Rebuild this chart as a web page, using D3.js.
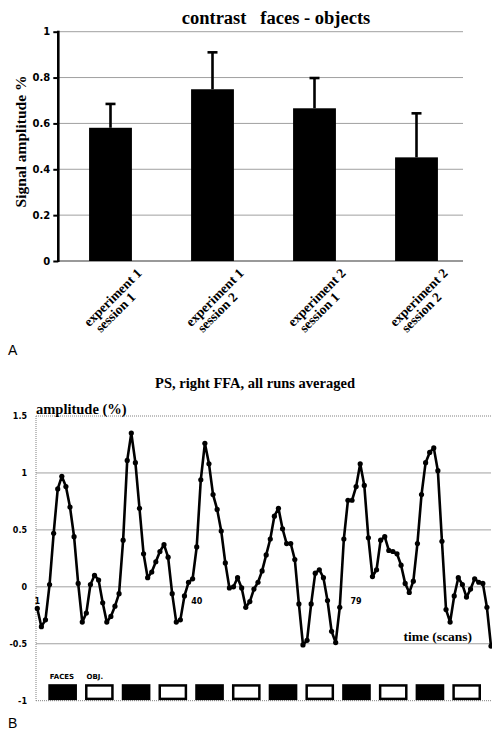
<!DOCTYPE html>
<html><head><meta charset="utf-8">
<script src="https://cdn.jsdelivr.net/npm/d3@7/dist/d3.min.js"></script>
<style>body{margin:0;background:#fff} svg{display:block}</style>
</head><body>
<svg id="c" width="492" height="733"></svg>
<script>
// ---------- Panel A data ----------
const categories = [["experiment 1","session 1"],["experiment 1","session 2"],["experiment 2","session 1"],["experiment 2","session 2"]];
const barValues = [0.581, 0.749, 0.666, 0.452];
const barErrors = [0.104, 0.161, 0.132, 0.192];
const yTicksA = [0, 0.2, 0.4, 0.6, 0.8, 1];
const yTickLabelsA = ["0", "0.2", "0.4", "0.6", "0.8", "1"];

// ---------- Panel B data ----------
const amplitude = [
 -0.19,-0.35,-0.29,0.02,0.47,0.86,0.97,0.88,0.70,0.44,
 0.03,-0.31,-0.23,0.02,0.10,0.06,-0.14,-0.31,-0.26,-0.17,
 -0.06,0.41,1.11,1.35,1.09,0.69,0.29,0.08,0.13,0.22,
 0.31,0.37,0.26,-0.06,-0.31,-0.29,-0.08,0.04,0.07,0.35,
 0.94,1.26,1.08,0.81,0.68,0.49,0.21,-0.01,0.00,0.08,
 -0.01,-0.18,-0.13,-0.02,0.04,0.14,0.28,0.42,0.62,0.69,
 0.51,0.38,0.38,0.24,-0.15,-0.51,-0.47,-0.15,0.12,0.15,
 0.08,-0.12,-0.39,-0.49,-0.18,0.42,0.76,0.76,0.88,1.08,
 0.89,0.43,0.09,0.15,0.41,0.44,0.32,0.31,0.29,0.19,
 0.03,-0.05,0.05,0.38,0.81,1.09,1.18,1.22,1.02,0.40,
 -0.20,-0.31,-0.08,0.08,0.02,-0.09,-0.02,0.07,0.04,0.03,
 -0.18,-0.52];
const timeTicks = [1, 40, 79];
const timeTickLabels = ["1", "40", "79"];
const yTicksB = [-1, -0.5, 0, 0.5, 1, 1.5];
const yTickLabelsB = ["-1", "-0.5", "0", "0.5", "1", "1.5"];
const blockTypes = ["faces","objects","faces","objects","faces","objects","faces","objects","faces","objects","faces","objects"];
const blockLabels = ["FACES","OBJ."];

const svg = d3.select("#c");
const serif = "'Liberation Serif', 'Times New Roman', serif";
const sans = "'DejaVu Sans', Verdana, sans-serif";

// ================= Panel A =================
const xA = d3.scaleBand().domain(d3.range(categories.length)).range([59.5, 467.5]).paddingInner(0.58).paddingOuter(0.29);
const yA = d3.scaleLinear().domain([0, 1]).range([261, 31.7]);
const gA = svg.append("g");

gA.append("text").attr("x", 276).attr("y", 24).attr("text-anchor", "middle")
  .attr("font-family", serif).attr("font-weight", "bold").attr("font-size", 18.5)
  .attr("xml:space", "preserve").style("white-space", "pre")
  .text("contrast   faces - objects");

// gridlines
gA.selectAll("line.grid").data(yTicksA).enter().append("line")
  .attr("x1", 58).attr("x2", 463).attr("y1", d => yA(d)).attr("y2", d => yA(d))
  .attr("stroke", d => d === 0 ? "#777" : "#a0a0a0").attr("stroke-width", d => d === 0 ? 1.3 : 1);

// y axis
const axA = gA.append("g").attr("transform", "translate(58.3,0)")
  .call(d3.axisLeft(yA).tickValues(yTicksA).tickFormat((d, i) => yTickLabelsA[i]).tickSize(5).tickPadding(3));
axA.select(".domain").remove();
axA.append("line").attr("x1", 0).attr("x2", 0).attr("y1", yA(1) - 1).attr("y2", yA(0) + 1).attr("stroke", "#000").attr("stroke-width", 2.6);
axA.selectAll(".tick line").attr("stroke", "#000").attr("stroke-width", 2);
axA.selectAll(".tick text").attr("font-family", sans).attr("font-weight", "bold").attr("font-size", 10).attr("fill", "#000");

// bars
gA.selectAll("rect.bar").data(barValues).enter().append("rect")
  .attr("x", (d, i) => xA(i)).attr("width", xA.bandwidth())
  .attr("y", d => yA(d)).attr("height", d => yA(0) - yA(d)).attr("fill", "#000");

// error bars
barValues.forEach((v, i) => {
  const cx = xA(i) + xA.bandwidth() / 2;
  gA.append("line").attr("x1", cx).attr("x2", cx).attr("y1", yA(v)).attr("y2", yA(v + barErrors[i]))
    .attr("stroke", "#000").attr("stroke-width", 2.6);
  gA.append("line").attr("x1", cx - 5).attr("x2", cx + 5).attr("y1", yA(v + barErrors[i])).attr("y2", yA(v + barErrors[i]))
    .attr("stroke", "#000").attr("stroke-width", 2.6);
});

// y label
gA.append("text").attr("transform", "translate(26,141.5) rotate(-90)").attr("text-anchor", "middle")
  .attr("font-family", serif).attr("font-weight", "bold").attr("font-size", 15.5).text("Signal amplitude %");

// category labels
categories.forEach((lines, i) => {
  const cx = xA(i) + xA.bandwidth() / 2;
  const g = gA.append("g").attr("transform", `translate(${cx + 32},${274}) rotate(-45)`)
    .attr("font-family", serif).attr("font-weight", "bold").attr("font-size", 13.5);
  const t1 = g.append("text").attr("x", 0).attr("y", 0).attr("text-anchor", "end").text(lines[0]);
  const L = t1.node().getComputedTextLength();
  g.append("text").attr("x", -L + 4).attr("y", 12.5).attr("text-anchor", "start").text(lines[1]);
});

svg.append("text").attr("x", 8).attr("y", 355).attr("font-family", "'Liberation Sans', Arial, sans-serif").attr("font-size", 14).text("A");

// ================= Panel B =================
const xB = d3.scaleLinear().domain([1, amplitude.length]).range([37.3, 491]);
const yB = d3.scaleLinear().domain([-1, 1.5]).range([700.7, 416]);
const gB = svg.append("g");

gB.append("text").attr("x", 255).attr("y", 388).attr("text-anchor", "middle")
  .attr("font-family", serif).attr("font-weight", "bold").attr("font-size", 14.5)
  .text("PS, right FFA, all runs averaged");

// grid
gB.selectAll("line.grid").data(yTicksB).enter().append("line")
  .attr("x1", 36).attr("x2", 491).attr("y1", d => yB(d)).attr("y2", d => yB(d))
  .attr("stroke", d => (d === 1.5 || d === -1) ? "#808080" : "#a0a0a0")
  .attr("stroke-width", 1)
  .attr("stroke-dasharray", d => (d === 1.5 || d === -1) ? "1,1" : null);
gB.append("line").attr("x1", 36).attr("x2", 36).attr("y1", yB(1.5)).attr("y2", yB(-1))
  .attr("stroke", "#808080").attr("stroke-dasharray", "1,1");

// y tick labels
const axB = gB.append("g").attr("transform", "translate(36,0)")
  .call(d3.axisLeft(yB).tickValues(yTicksB).tickFormat((d, i) => yTickLabelsB[i]).tickSize(0).tickPadding(9));
axB.select(".domain").remove();
axB.selectAll(".tick text").attr("font-family", sans).attr("font-weight", "bold").attr("font-size", 8).attr("fill", "#000");

// axis titles
gB.append("text").attr("x", 36).attr("y", 413.5).attr("font-family", serif).attr("font-weight", "bold").attr("font-size", 14.5).text("amplitude (%)");
gB.append("text").attr("x", 472).attr("y", 641).attr("text-anchor", "end").attr("font-family", serif).attr("font-weight", "bold").attr("font-size", 13.5).text("time (scans)");

// time tick labels
gB.selectAll("text.tt").data(timeTicks).enter().append("text")
  .attr("x", d => xB(d)).attr("y", yB(0) + 17).attr("text-anchor", "middle")
  .attr("font-family", sans).attr("font-weight", "bold").attr("font-size", 8)
  .text((d, i) => timeTickLabels[i]);

// line + markers
const line = d3.line().x((d, i) => xB(i + 1)).y(d => yB(d));
gB.append("path").datum(amplitude).attr("d", line).attr("fill", "none").attr("stroke", "#000").attr("stroke-width", 2.6).attr("stroke-linejoin", "round");
gB.selectAll("circle.pt").data(amplitude).enter().append("circle")
  .attr("cx", (d, i) => xB(i + 1)).attr("cy", d => yB(d)).attr("r", 2.6).attr("fill", "#000");

// blocks
const xBlock = d3.scaleBand().domain(d3.range(blockTypes.length)).range([48.3, 481]).paddingInner(0.22).paddingOuter(0);
const blockTop = yB(-0.855), blockBottom = yB(-0.995);
blockTypes.forEach((t, i) => {
  if (t === "faces") {
    gB.append("rect").attr("x", xBlock(i)).attr("y", blockTop).attr("width", xBlock.bandwidth()).attr("height", blockBottom - blockTop).attr("fill", "#000");
  } else {
    gB.append("rect").attr("x", xBlock(i) + 1.25).attr("y", blockTop + 1.25).attr("width", xBlock.bandwidth() - 2.5).attr("height", blockBottom - blockTop - 2.5)
      .attr("fill", "#fff").attr("stroke", "#000").attr("stroke-width", 2.5);
  }
});
blockLabels.forEach((lbl, i) => {
  gB.append("text").attr("x", xBlock(i) + 1.5).attr("y", blockTop - 5).attr("font-family", sans).attr("font-weight", "bold").attr("font-size", 7).text(lbl);
});

svg.append("text").attr("x", 8).attr("y", 728).attr("font-family", "'Liberation Sans', Arial, sans-serif").attr("font-size", 14).text("B");
</script>
</body></html>
